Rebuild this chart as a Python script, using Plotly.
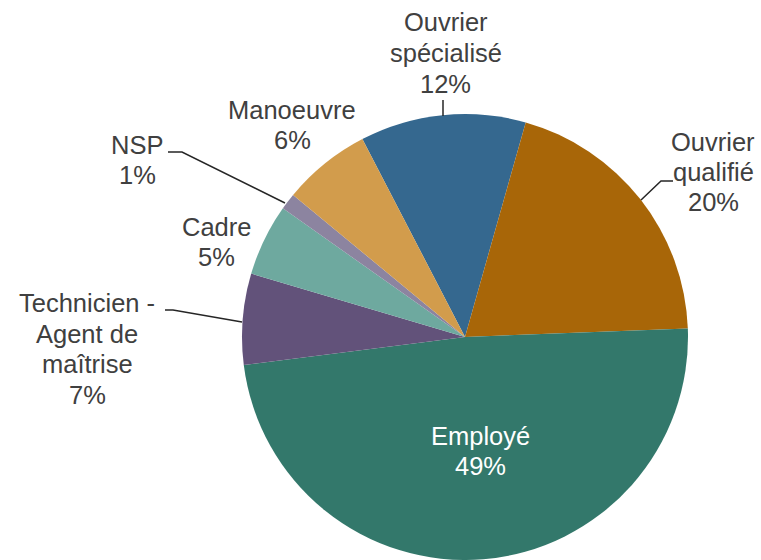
import plotly.graph_objects as go

W, H = 761, 560

categories = ["Ouvrier<br>spécialisé", "Ouvrier<br>qualifié", "Employé",
              "Technicien -<br>Agent de<br>maîtrise", "Cadre", "NSP", "Manoeuvre"]
values = [12.0, 20.0, 48.6, 6.6, 5.2, 1.2, 6.4]
colors = ["#35688f", "#a86608", "#33786b", "#62527a", "#6ea99f", "#8c84a0", "#d29c4c"]

# label block centres (pixels) and text colours
label_pos = [(446, 53), (713, 172), (481, 451), (87, 349), (216, 242), (137, 160), (292, 125)]
label_col = ["#404040", "#404040", "#ffffff", "#404040", "#404040", "#404040", "#404040"]
LINE_H = 30.5
FONT_SIZE = 25.5

# leader lines (pixels)
leaders = [
    [(443, 100), (443, 116)],
    [(673, 181), (661, 181), (641, 200)],
    [(168, 152), (182, 152), (285, 203)],
    [(165, 310), (173, 310), (242, 322)],
]

def px(x):
    return x / W

def py(y):
    return 1 - y / H

fig = go.Figure(go.Pie(
    labels=[c.replace("<br>", " ") for c in categories],
    values=values,
    sort=False,
    direction="clockwise",
    rotation=-27.4,
    marker=dict(colors=colors, line=dict(width=0)),
    textinfo="none",
    hoverinfo="label+percent",
    showlegend=False,
    domain=dict(x=[px(242), px(688)], y=[0, 446 / H]),
))

annotations = []
for cat, v, (x, y), col in zip(categories, values, label_pos, label_col):
    lines = cat.split("<br>") + [f"{round(v)}%"]
    n = len(lines)
    for i, ln in enumerate(lines):
        yy = y + (i - (n - 1) / 2) * LINE_H
        annotations.append(dict(
            x=px(x), y=py(yy), xref="paper", yref="paper",
            text=ln, showarrow=False,
            xanchor="center", yanchor="middle", align="center",
            font=dict(family="Liberation Sans, Arial, sans-serif", size=FONT_SIZE, color=col),
        ))

shapes = []
for pts in leaders:
    path = "M " + " L ".join(f"{px(x)},{py(y)}" for x, y in pts)
    shapes.append(dict(type="path", path=path, xref="paper", yref="paper",
                       line=dict(color="#262626", width=1.5)))

fig.update_layout(
    width=W, height=H,
    margin=dict(l=0, r=0, t=0, b=0),
    paper_bgcolor="white", plot_bgcolor="white",
    annotations=annotations, shapes=shapes,
)

fig.write_html("out.html", config={"displayModeBar": False},
               post_script="document.body.style.margin='0';document.body.style.overflow='hidden';")
